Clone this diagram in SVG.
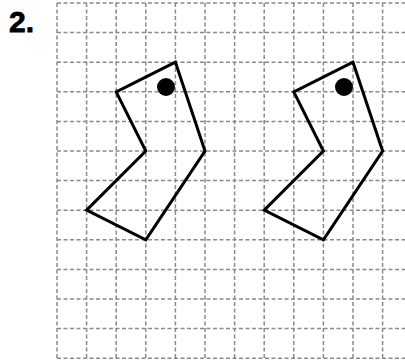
<svg xmlns="http://www.w3.org/2000/svg" width="405" height="362" viewBox="0 0 405 362">
<style>
.grid{stroke:#8a8a8a;stroke-width:1.5;stroke-dasharray:4 2.5;fill:none}
.shape{fill:none;stroke:#000;stroke-width:3;stroke-linejoin:miter}
.dot{fill:#000}
.lbl{font-family:"Liberation Sans",Arial,sans-serif;font-weight:bold;font-size:30px;fill:#000}
</style>
<rect width="405" height="362" fill="#fff"/>
<g id="grid" class="grid">
<path d="M57,3V358.2M86.6,3V358.2M116.2,3V358.2M145.8,3V358.2M175.4,3V358.2M205,3V358.2M234.6,3V358.2M264.2,3V358.2M293.8,3V358.2M323.4,3V358.2M353,3V358.2M382.6,3V358.2"/>
<path d="M57,3H405M57,32.6H405M57,62.2H405M57,91.8H405M57,121.4H405M57,151H405M57,180.6H405M57,210.2H405M57,239.8H405M57,269.4H405M57,299H405M57,328.6H405M57,358.2H405"/>
</g>
<text class="lbl" x="9" y="32" stroke="#000" stroke-width="0.8">2.</text>
<g id="shape-left">
<polygon class="shape" points="175.4,62.2 116.2,91.8 145.8,151 86.6,210.2 145.8,239.8 205,151"/>
<circle class="dot" cx="166" cy="87" r="9"/>
</g>
<g id="shape-right">
<polygon class="shape" points="353,62.2 293.8,91.8 323.4,151 264.2,210.2 323.4,239.8 382.6,151"/>
<circle class="dot" cx="344" cy="87" r="9"/>
</g>
<g id="connectors"></g>
</svg>
